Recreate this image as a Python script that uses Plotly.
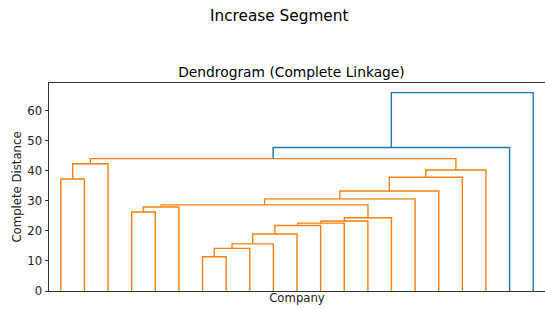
import plotly.graph_objects as go

# Leaf labels (hidden on the axis) in dendrogram order
companies = [f"C{i+1}" for i in range(21)]

# Merge list: (left, right, height); ints are leaf positions, "mK" are earlier merges
merges = [
    (6, 7, 11.4),
    ("m0", 8, 14.2),
    ("m1", 9, 15.7),
    ("m2", 10, 19.0),
    ("m3", 11, 21.8),
    ("m4", 12, 22.6),
    ("m5", 13, 23.3),
    ("m6", 14, 24.4),
    (3, 4, 26.3),
    ("m8", 5, 28.0),
    ("m9", "m7", 28.7),
    ("m10", 15, 30.7),
    ("m11", 16, 33.3),
    (0, 1, 37.3),
    ("m12", 17, 37.9),
    ("m14", 18, 40.3),
    ("m13", 2, 42.4),
    ("m16", "m15", 44.1),
    ("m17", 19, 47.8),
    ("m18", 20, 66.1),
]

max_h = max(m[2] for m in merges)
threshold = 0.7 * max_h

pos = {}  # node -> (x, height)
for i, _ in enumerate(companies):
    pos[i] = (5 + 10 * i, 0.0)

seg = {"#ff7f0e": ([], []), "#1f77b4": ([], [])}
for k, (a, b, h) in enumerate(merges):
    xa, ha = pos[a]
    xb, hb = pos[b]
    col = "#ff7f0e" if h < threshold else "#1f77b4"
    xs, ys = seg[col]
    xs += [xa, xa, xb, xb, None]
    ys += [ha, h, h, hb, None]
    pos[f"m{k}"] = ((xa + xb) / 2, h)

fig = go.Figure()
for col, (xs, ys) in seg.items():
    fig.add_trace(go.Scatter(x=xs, y=ys, mode="lines",
                             line=dict(color=col, width=1.4),
                             hoverinfo="skip", showlegend=False))

W, H = 545, 309
ML, MR, MT, MB = 49, 0, 83, 18
fig.update_layout(
    width=W, height=H,
    margin=dict(l=ML, r=MR, t=MT, b=MB, autoexpand=False),
    paper_bgcolor="white", plot_bgcolor="white",
    font=dict(family="DejaVu Sans", size=11, color="#222"),
    annotations=[
        dict(text="Increase Segment", x=(279 - ML) / (W - ML - MR),
             y=1 + (MT - 16) / (H - MT - MB), xref="paper", yref="paper",
             showarrow=False, font=dict(size=15.3, color="black"),
             xanchor="center", yanchor="middle"),
    ],
    title=dict(text="Dendrogram (Complete Linkage)", x=291.5 / W, xanchor="center",
               y=1 - 72 / H, yanchor="middle", font=dict(size=13.8, color="black")),
)

fig.update_xaxes(range=[0, 10 * len(companies)], showticklabels=False, ticks="",
                 showgrid=False, zeroline=False, showline=True, linecolor="#333",
                 linewidth=1, mirror=True,
                 title=dict(text="Company", font=dict(size=11.7, color="#222"), standoff=2))
fig.update_yaxes(range=[0, 69.3], tickvals=[0, 10, 20, 30, 40, 50, 60], ticks="outside",
                 ticklen=3.5, tickcolor="#333", showgrid=False, zeroline=False,
                 showline=True, linecolor="#333", linewidth=1, mirror=True,
                 tickfont=dict(size=11.7, color="#222"),
                 title=dict(text="Complete Distance", font=dict(size=11.7, color="#222"), standoff=3))

fig.write_html("out.html", config={"displayModeBar": False},
               post_script="document.body.style.margin='0';")
